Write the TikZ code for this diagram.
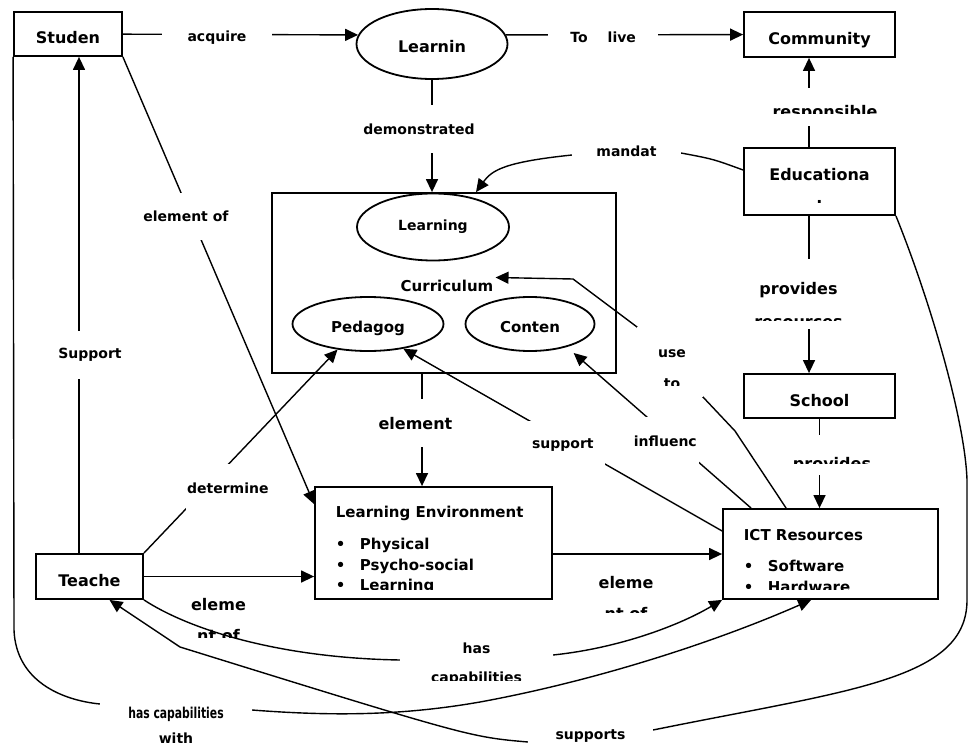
\documentclass[tikz,border=0pt]{standalone}
\usepackage{fontspec}
\setmainfont{DejaVu Sans}
\usepackage{graphicx}
\usetikzlibrary{arrows.meta,positioning,shapes.geometric}

\tikzset{
  bigtxt/.style={font=\bfseries\fontsize{16}{19}\selectfont},
  midtxt/.style={font=\bfseries\fontsize{15}{18}\selectfont},
  smalltxt/.style={font=\bfseries\fontsize{14}{17}\selectfont},
  box/.style={draw, rectangle, line width=1.8pt, inner sep=0pt, bigtxt},
  oval/.style={draw, ellipse, line width=1.8pt, inner sep=0pt, bigtxt},
  sitlow/.style={text height=#1, text depth=0pt},
  lbl/.style={fill=white, inner sep=0pt, smalltxt},
  txt/.style={draw=none, fill=none, inner sep=0pt, minimum width=0pt, minimum height=0pt, anchor=base},
  link/.style={line width=1.4pt},
  arr/.style={link, -{Triangle[length=13pt,width=12pt]}}
}

\begin{document}
\begin{tikzpicture}[x=1pt, y=-1pt]
\useasboundingbox (0,0) rectangle (968,746);

% boxes and ovals
\node[box, sitlow=20pt, minimum width=108pt, minimum height=44pt] (studen) at (68,34) {Studen};
\node[oval, sitlow=17pt, minimum width=151pt, minimum height=70pt] (learnin) at (432,44) {Learnin};
\node[box, sitlow=20pt, minimum width=151pt, minimum height=45pt] (comm) at (819.5,34.5) {Community};
\node[box, align=center, minimum width=151pt, minimum height=67pt] (educ) at (819.5,181.5) {\rule{0pt}{20pt}Educationa\\[4pt].};
\node[box, minimum width=344pt, minimum height=180pt] (curr) at (444,283) {};
\node[midtxt, inner sep=2pt] (curtxt) at (447,285.5) {Curriculum};
\node[oval, smalltxt, minimum width=152pt, minimum height=67pt] (lrn) at (433,227) {Learning};
\node[oval, midtxt, sitlow=17pt, minimum width=151pt, minimum height=54pt] (ped) at (368,324) {Pedagog};
\node[oval, midtxt, sitlow=17pt, minimum width=129pt, minimum height=54pt] (con) at (530,324) {Conten};
\node[box, sitlow=20pt, minimum width=151pt, minimum height=44pt] (school) at (819.5,396) {School};
\node[box, sitlow=20pt, minimum width=107pt, minimum height=45pt] (teach) at (89.5,576.5) {Teache};
\node[box, minimum width=237pt, minimum height=112pt, path picture={
    \clip (path picture bounding box.north west) rectangle ([yshift=10pt]path picture bounding box.south east);
    \node[txt, midtxt, anchor=base west] (envt) at ([xshift=20pt,yshift=-30pt]path picture bounding box.north west) {Learning Environment};
    \node[txt, midtxt, anchor=base west] (env1) at ([xshift=20pt,yshift=-62.5pt]path picture bounding box.north west) {\makebox[24pt][l]{•}Physical};
    \node[txt, midtxt, anchor=base west] (env2) at ([xshift=20pt,yshift=-83pt]path picture bounding box.north west) {\makebox[24pt][l]{•}Psycho-social};
    \node[txt, midtxt, anchor=base west] (env3) at ([xshift=20pt,yshift=-103.5pt]path picture bounding box.north west) {\makebox[24pt][l]{•}Learning};
  }] (env) at (433.5,543) {};
\node[box, minimum width=215pt, minimum height=90pt, path picture={
    \clip (path picture bounding box.north west) rectangle ([yshift=10pt]path picture bounding box.south east);
    \node[txt, midtxt, anchor=base west] (ictt) at ([xshift=20pt,yshift=-31.7pt]path picture bounding box.north west) {ICT Resources};
    \node[txt, midtxt, anchor=base west] (ict1) at ([xshift=20pt,yshift=-62.7pt]path picture bounding box.north west) {\makebox[24pt][l]{•}Software};
    \node[txt, midtxt, anchor=base west] (ict2) at ([xshift=20pt,yshift=-83.7pt]path picture bounding box.north west) {\makebox[24pt][l]{•}Hardware};
  }] (ict) at (830.5,554) {};

% free labels
\begin{scope}
  \clip (160,585) rectangle (280,637);
  \node[txt, bigtxt] (elem1) at (218.5,610) {eleme};
  \node[txt, bigtxt] (elem1b) at (218.5,641) {nt of};
\end{scope}
\begin{scope}
  \clip (570,560) rectangle (690,612);
  \node[txt, bigtxt] (elem2) at (626,588.3) {eleme};
  \node[txt, bigtxt] (elem2b) at (626,619) {nt of};
\end{scope}

% top row
\draw[arr] (studen) -- node[lbl, pos=.4, yshift=-3pt, minimum width=110pt, minimum height=26pt] (lacq) {acquire} (learnin.173);
\draw[arr] (learnin.7) -- node[lbl, pos=.41, yshift=-2pt, minimum width=110pt, minimum height=26pt] (lliv) {To\hspace{20pt}live} (comm);
\draw[arr] (learnin.south) -- node[lbl, pos=.44, xshift=-13pt, minimum width=112pt, minimum height=48pt] (ldem) {demonstrated} (learnin.south |- curr.north);
\draw[arr] ([xshift=-10.5pt]educ.north) -- node[lbl, pos=.45, xshift=16pt, minimum width=120pt, minimum height=38pt, path picture={
    \clip (path picture bounding box.north west) rectangle ([yshift=12pt]path picture bounding box.south east);
    \node[txt, bigtxt] (lresp1) at ([yshift=-30pt]path picture bounding box.north) {responsible};
  }] (lresp) {} ([xshift=-10.5pt]comm.south);
\draw[arr] ([yshift=11.5pt]educ.west) .. controls (713,159) .. (681,153) -- node[lbl, yshift=3pt, minimum width=109pt, minimum height=28pt] (lman) {mandat} (572,155) .. controls (505,162) and (492,170) .. ([xshift=32pt]curr.north);

% right column
\draw[arr] ([xshift=-10.5pt]educ.south) -- node[lbl, pos=.497, xshift=-10.5pt, minimum width=100pt, minimum height=70pt, path picture={
    \clip (path picture bounding box.north west) rectangle ([yshift=9pt]path picture bounding box.south east);
    \node[txt, bigtxt] (lprov1) at ([yshift=-35pt]path picture bounding box.north) {provides};
    \node[txt, bigtxt] (lprov2) at ([yshift=-68pt]path picture bounding box.north) {resources};
  }] (lprov) {} ([xshift=-10.5pt]school.north);
\draw[arr] (school.south) -- node[lbl, pos=.41, xshift=12.5pt, minimum width=100pt, minimum height=40pt, path picture={
    \clip (path picture bounding box.north west) rectangle ([yshift=12pt]path picture bounding box.south east);
    \node[txt, bigtxt] (lprovb1) at ([yshift=-34pt]path picture bounding box.north) {provides};
  }] (lprovb) {} (school.south |- ict.north);

% middle
\draw[arr] ([xshift=-22pt]curr.south) -- node[lbl, bigtxt, pos=.44, xshift=-6.5pt, minimum width=78pt, minimum height=48pt] (lele) {element} ([xshift=-11.5pt]env.north);
\draw[arr] ([xshift=-10.5pt]teach.north) -- node[lbl, pos=.40, xshift=11pt, minimum width=66pt, minimum height=48pt] (lsupp) {Support} ([xshift=11pt]studen.south);
\draw[arr] (studen.south east) -- node[lbl, pos=.356, xshift=-5pt, minimum width=88pt, minimum height=47pt] (lelof) {element of} ([yshift=-18pt]env.north west);
\draw[arr] (teach.north east) -- node[lbl, pos=.32, xshift=22pt, minimum width=84pt, minimum height=47pt] (ldet) {determine} (ped.-140);
\draw[arr] (teach) -- (teach -| env.west);
\draw[arr] (env.east |- ict.west) -- (ict.west);
\draw[arr] ([xshift=64pt]ict.north west) -- (735,431) -- node[lbl, pos=.663, minimum width=66pt, minimum height=70pt, path picture={
    \clip (path picture bounding box.north west) rectangle ([yshift=12pt]path picture bounding box.south east);
    \node[txt, smalltxt] (luse1) at ([xshift=2pt,yshift=-30pt]path picture bounding box.north) {use};
    \node[txt, smalltxt] (luse2) at ([xshift=2pt,yshift=-61pt]path picture bounding box.north) {to};
  }] (luse) {} (637,327) -- (573,279) -- (curtxt.north east);
\draw[arr] ([yshift=23pt]ict.west) -- node[lbl, pos=.49, xshift=-3pt, yshift=-3pt, minimum width=84pt, minimum height=48pt] (lsup) {support} (ped.-35);
\draw[arr, shorten >=9pt] ([xshift=29pt]ict.north west) -- node[lbl, pos=.433, xshift=-6pt, yshift=-3pt, minimum width=67pt, minimum height=48pt] (linf) {influenc} (con.-32);

% bottom curves
\draw[arr] (teach.south east) .. controls (190,630) and (280,658) .. (400,660) -- node[lbl, yshift=1.5pt, minimum width=153pt, minimum height=48pt, path picture={
    \node[txt, smalltxt] (lhas1) at ([yshift=-21pt]path picture bounding box.north) {has};
    \node[txt, smalltxt] (lhas2) at ([yshift=-50pt]path picture bounding box.north) {capabilities};
  }] (lhas) {} (553,655) .. controls (620,648) and (680,625) .. (ict.south west);
\draw[arr] (studen.south west) -- (14,630) .. controls (16,680) and (60,700) .. (100,704) -- node[lbl, yshift=-18pt, minimum width=152pt, minimum height=50pt, path picture={
    \node[txt, font=\bfseries\fontsize{15}{18}\selectfont] (lhcw1) at ([yshift=-18.3pt]path picture bounding box.north) {\scalebox{.72}[1]{has capabilities}};
    \node[txt, smalltxt] (lhcw2) at ([yshift=-43.3pt]path picture bounding box.north) {with};
  }] (lhcw) {} (252,710) .. controls (330,716) and (400,716) .. (480,702) .. controls (600,680) and (720,640) .. ([xshift=89pt]ict.south west);
\draw[arr] (educ.south east) .. controls (930,300) and (965,420) .. (967,480) -- (967,600) .. controls (967,680) and (850,690) .. (653,730) -- node[lbl, minimum width=125pt, minimum height=26pt] (lsups) {supports} (528,742) .. controls (470,737) .. (180,647) -- ([xshift=20pt]teach.south);
\end{tikzpicture}
\end{document}
